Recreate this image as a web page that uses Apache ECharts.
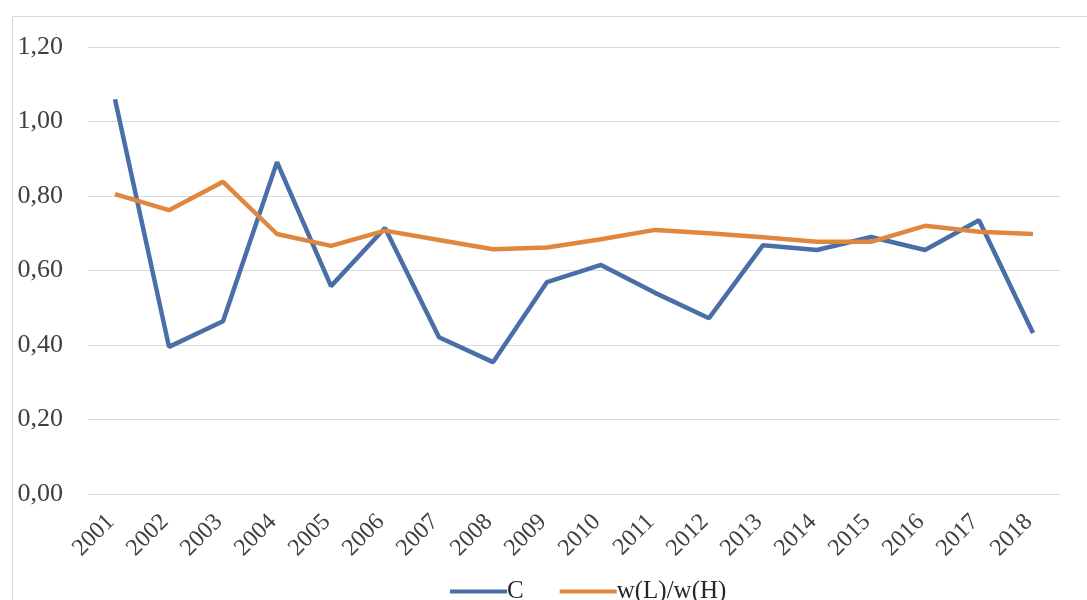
<!DOCTYPE html>
<html>
<head>
<meta charset="utf-8">
<script src="https://cdn.jsdelivr.net/npm/echarts@6/dist/echarts.min.js"></script>
<style>html,body{margin:0;padding:0;background:#fff}#c{width:1087px;height:600px}</style>
</head>
<body>
<div id="c"></div>
<script>
const years = ['2001','2002','2003','2004','2005','2006','2007','2008','2009','2010','2011','2012','2013','2014','2015','2016','2017','2018'];
const seriesC = [1.06,0.395,0.464,0.891,0.558,0.714,0.421,0.354,0.569,0.615,0.54,0.472,0.668,0.655,0.69,0.655,0.735,0.432];
const seriesW = [0.805,0.762,0.838,0.698,0.666,0.707,0.682,0.657,0.662,0.684,0.709,0.700,0.689,0.677,0.677,0.72,0.704,0.698];
const yTicks = {min:0, max:1.2, interval:0.2};

const chart = echarts.init(document.getElementById('c'));
const font = '"Liberation Serif","Times New Roman",serif';
chart.setOption({
  animation:false,
  backgroundColor:'#fff',
  graphic:[{type:'polyline',shape:{points:[[12.5,600],[12.5,16.5],[1087,16.5]]},style:{stroke:'#d9d9d9',lineWidth:1,fill:null}}],
  grid:{left:88,right:27,top:47,bottom:106},
  legend:{left:445,top:574,itemWidth:57,itemHeight:4,itemGap:36,icon:'rect',
    textStyle:{fontFamily:font,fontSize:25,color:'#262626',padding:[0,0,0,-5]},
    data:['C','w(L)/w(H)']},
  xAxis:{type:'category',data:years,boundaryGap:true,
    axisLine:{show:false},axisTick:{show:false},
    axisLabel:{rotate:45,fontFamily:font,fontSize:24,color:'#404040',margin:20,interval:0,padding:[0,6,0,0]}},
  yAxis:{type:'value',min:yTicks.min,max:yTicks.max,interval:yTicks.interval,
    axisLine:{show:false},axisTick:{show:false},
    splitLine:{lineStyle:{color:'#d9d9d9',width:1}},
    axisLabel:{fontFamily:font,fontSize:26,color:'#404040',margin:25,
      formatter:v=>v.toFixed(2).replace('.',',')}},
  series:[
    {name:'C',type:'line',data:seriesC,symbol:'none',lineStyle:{color:'#4A6FA8',width:4.5},itemStyle:{color:'#4A6FA8'}},
    {name:'w(L)/w(H)',type:'line',data:seriesW,symbol:'none',lineStyle:{color:'#E0873F',width:4.5},itemStyle:{color:'#E0873F'}}
  ]
});
</script>
</body>
</html>
